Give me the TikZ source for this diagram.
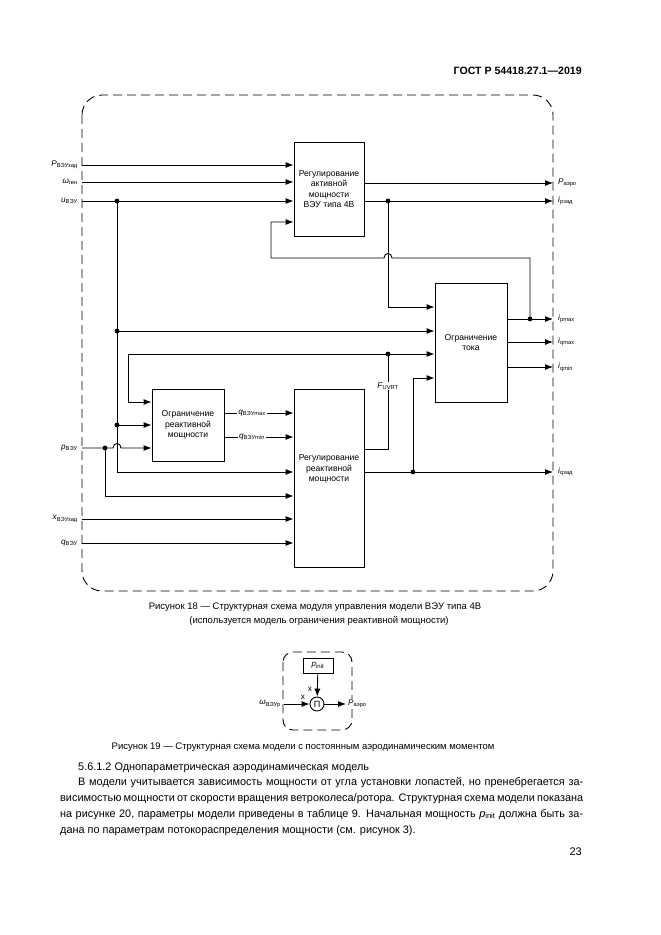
\documentclass[tikz,border=0pt]{standalone}
\usepackage{fontspec}
\setmainfont{Liberation Sans}
\usetikzlibrary{arrows.meta,calc}
\begin{document}
\begin{tikzpicture}[x=1pt,y=-1pt,
  wire/.style={line width=0.9pt},
  arr/.style={line width=0.9pt,-{Latex[length=8pt,width=6pt]}},
  blk/.style={draw,line width=0.9pt,inner sep=0pt,align=center,font=\fontsize{8.6}{10.3}\selectfont},
  jdot/.style={circle,fill,inner sep=0pt,minimum size=4.8pt},
  lbl/.style={inner sep=1pt,font=\fontsize{8.2}{9}\selectfont},
  frame/.style={line width=0.9pt,dash pattern=on 9pt off 5pt},
  bodytext/.style={inner sep=0pt,anchor=base west,font=\fontsize{10.9}{16}\selectfont},
  captext/.style={inner sep=0pt,anchor=base,font=\fontsize{9.5}{14}\selectfont},
]
\useasboundingbox (0,0) rectangle (661,935);
\fill[white] (0,0) rectangle (661,935);

% header
\node[inner sep=0pt,anchor=base east,font=\bfseries\fontsize{10.6}{13}\selectfont] (hdr) at (582,74) {ГОСТ Р 54418.27.1—2019};

% frame of figure 18
\draw[frame,rounded corners=20pt] (82,95) rectangle (553,591);

% blocks
\node[blk,minimum width=70pt,minimum height=94pt] (pa) at (329,189) {Регулирование\\активной\\мощности\\ВЭУ типа 4В};
\node[blk,minimum width=72pt,minimum height=119pt] (cl) at (471,342.5) {Ограничение\\тока};
\node[blk,minimum width=72pt,minimum height=72pt] (rl) at (188,425) {Ограничение\\реактивной\\мощности};
\node[blk,minimum width=70pt,minimum height=178pt] (rp) at (329,478) {};
\node[blk,draw=none] (rpt) at (329,469) {Регулирование\\реактивной\\мощности};

% coordinates
\coordinate (inP) at (82,165);
\coordinate (inW) at (82,182);
\coordinate (inU) at (82,201);
\coordinate (inp) at (82,448);
\coordinate (inX) at (82,519);
\coordinate (inQ) at (82,543);
\coordinate (outPa) at (553,183);
\coordinate (outIp) at (553,201);
\coordinate (outImax) at (553,319);
\coordinate (outQmax) at (553,342);
\coordinate (outQmin) at (553,367);
\coordinate (outIq) at (553,472);
\coordinate (jU) at (117,201);
\coordinate (jU2) at (117,331);
\coordinate (jU3) at (117,425);
\coordinate (jA) at (388,201);
\coordinate (jM) at (530,319);
\coordinate (jF) at (388,354);
\coordinate (jp) at (105,448);
\coordinate (jq) at (413,472);

% inputs of active power block
\draw[arr] (inP) -- (inP -| pa.west);
\draw[arr] (inW) -- (inW -| pa.west);
\draw[arr] (inU) -- (inU -| pa.west);
% outputs of active power block
\draw[arr] (pa.east |- outPa) -- (outPa);
\draw[arr] (pa.east |- outIp) -- (outIp);
% feedback of i_pmax
\draw[arr] (jM) -- (530,258) -- (392,258) .. controls (392,252) and (384,252) .. (384,258) -- (271,258) -- (271,222) -- (pa.west |- 0,222);
% i_pcmd to current limit
\draw[arr] (jA) -- (388,307) -- (cl.west |- 0,307);
% u branches
\draw[arr] (jU) -- (117,472) -- (rp.west |- 0,472);
\draw[arr] (jU2) -- (cl.west |- jU2);
\draw[arr] (jU3) -- (rl.west |- jU3);
% p input
\draw[arr] (inp) -- (113,448) .. controls (113,442) and (121,442) .. (121,448) -- (rl.west |- inp);
\draw[arr] (jp) -- (105,496) -- (rp.west |- 0,496);
% F_UVRT
\draw[wire] (rp.east |- 0,449) -- (388,449) -- (jF);
\draw[arr] (jF) -- (cl.west |- jF);
\draw[arr] (jF) -- (128,354) -- (128,402) -- (rl.west |- 0,402);
\node[lbl,fill=white] (lF) at (388,386) {\textit{F}\textsubscript{UVRT}};
% reactive limit outputs
\draw[arr] (rl.east |- 0,413) -- (rp.west |- 0,413);
\draw[arr] (rl.east |- 0,437) -- (rp.west |- 0,437);
\node[lbl,fill=white] (lqmax) at (252,413) {\textit{q}\textsubscript{ВЭУmax}};
\node[lbl,fill=white] (lqmin) at (252,437) {\textit{q}\textsubscript{ВЭУmin}};
% x and q inputs
\draw[arr] (inX) -- (inX -| rp.west);
\draw[arr] (inQ) -- (inQ -| rp.west);
% i_qcmd
\draw[arr] (rp.east |- outIq) -- (outIq);
\draw[arr] (jq) -- (413,378) -- (cl.west |- 0,378);
% current limit outputs
\draw[arr] (cl.east |- outImax) -- (outImax);
\draw[arr] (cl.east |- outQmax) -- (outQmax);
\draw[arr] (cl.east |- outQmin) -- (outQmin);

% junction dots
\node[jdot] (dU) at (jU) {};
\node[jdot] (dU2) at (jU2) {};
\node[jdot] (dU3) at (jU3) {};
\node[jdot] (dA) at (jA) {};
\node[jdot] (dM) at (jM) {};
\node[jdot] (dF) at (jF) {};
\node[jdot] (dp) at (jp) {};
\node[jdot] (dq) at (jq) {};

% input labels
\node[lbl,anchor=east,xshift=-3pt] (lP) at (inP) {\textit{P}\textsubscript{ВЭУзад}};
\node[lbl,anchor=east,xshift=-3pt] (lW) at (inW) {\textit{ω}\textsubscript{ген}};
\node[lbl,anchor=east,xshift=-3pt] (lU) at (inU) {\textit{u}\textsubscript{ВЭУ}};
\node[lbl,anchor=east,xshift=-3pt] (lp) at (inp) {\textit{p}\textsubscript{ВЭУ}};
\node[lbl,anchor=east,xshift=-3pt] (lX) at (inX) {\textit{x}\textsubscript{ВЭУзад}};
\node[lbl,anchor=east,xshift=-3pt] (lQ) at (inQ) {\textit{q}\textsubscript{ВЭУ}};
% output labels
\node[lbl,anchor=west,xshift=4pt] (oPa) at (outPa) {\textit{P}\textsubscript{аэро}};
\node[lbl,anchor=west,xshift=4pt] (oIp) at (outIp) {\textit{i}\textsubscript{pзад}};
\node[lbl,anchor=west,xshift=4pt] (oImax) at (outImax) {\textit{i}\textsubscript{pmax}};
\node[lbl,anchor=west,xshift=4pt] (oQmax) at (outQmax) {\textit{i}\textsubscript{qmax}};
\node[lbl,anchor=west,xshift=4pt] (oQmin) at (outQmin) {\textit{i}\textsubscript{qmin}};
\node[lbl,anchor=west,xshift=4pt] (oIq) at (outIq) {\textit{i}\textsubscript{qзад}};

% captions of figure 18
\node[captext] (c18a) at (315,609) {Рисунок 18 — Структурная схема модуля управления модели ВЭУ типа 4В};
\node[captext] (c18b) at (319,623) {(используется модель ограничения реактивной мощности)};

% figure 19
\draw[frame,rounded corners=10pt] (283,652) rectangle (352,730);
\node[draw,line width=0.9pt,minimum width=30pt,minimum height=15pt,inner sep=0pt,font=\fontsize{8}{9}\selectfont] (pinit) at (318,665.5) {\textit{p}\textsubscript{init}};
\node[draw,circle,line width=0.9pt,minimum size=14pt,inner sep=0pt,font=\fontsize{9}{9}\selectfont] (prod) at (317,704) {Π};
\coordinate (w19) at (284,704);
\coordinate (o19) at (346,704);
\draw[arr] (w19) -- (prod);
\draw[arr] (pinit) -- (prod);
\draw[arr] (prod) -- (o19);
\node[lbl,anchor=east] (lw19) at (282,704) {\textit{ω}\textsubscript{ВЭУр}};
\node[lbl,anchor=west,fill=white] (lo19) at (347,704) {\textit{P}\textsubscript{аэро}};
\node[lbl] (x1) at (303,697) {x};
\node[lbl] (x2) at (310,689) {x};

\node[captext] (c19) at (303,749) {Рисунок 19 — Структурная схема модели с постоянным аэродинамическим моментом};

% body text
\node[bodytext] (h) at (78,770) {5.6.1.2 Однопараметрическая аэродинамическая модель};
\node[bodytext] (t1) at (78,785) {\makebox[505pt][s]{В модели учитывается зависимость мощности от угла установки лопастей, но пренебрегается за-}};
\node[bodytext] (t2) at (60,801) {\makebox[523pt][s]{висимостью мощности от скорости вращения ветроколеса/ротора. Структурная схема модели показана}};
\node[bodytext] (t3) at (60,817) {\makebox[523pt][s]{на рисунке 20, параметры модели приведены в таблице 9. Начальная мощность \textit{p}\textsubscript{init} должна быть за-}};
\node[bodytext] (t4) at (60,833) {дана по параметрам потокораспределения мощности (см. рисунок 3).};
\node[inner sep=0pt,anchor=base east,font=\fontsize{11}{13}\selectfont] (pg) at (582,855) {23};
\end{tikzpicture}
\end{document}
